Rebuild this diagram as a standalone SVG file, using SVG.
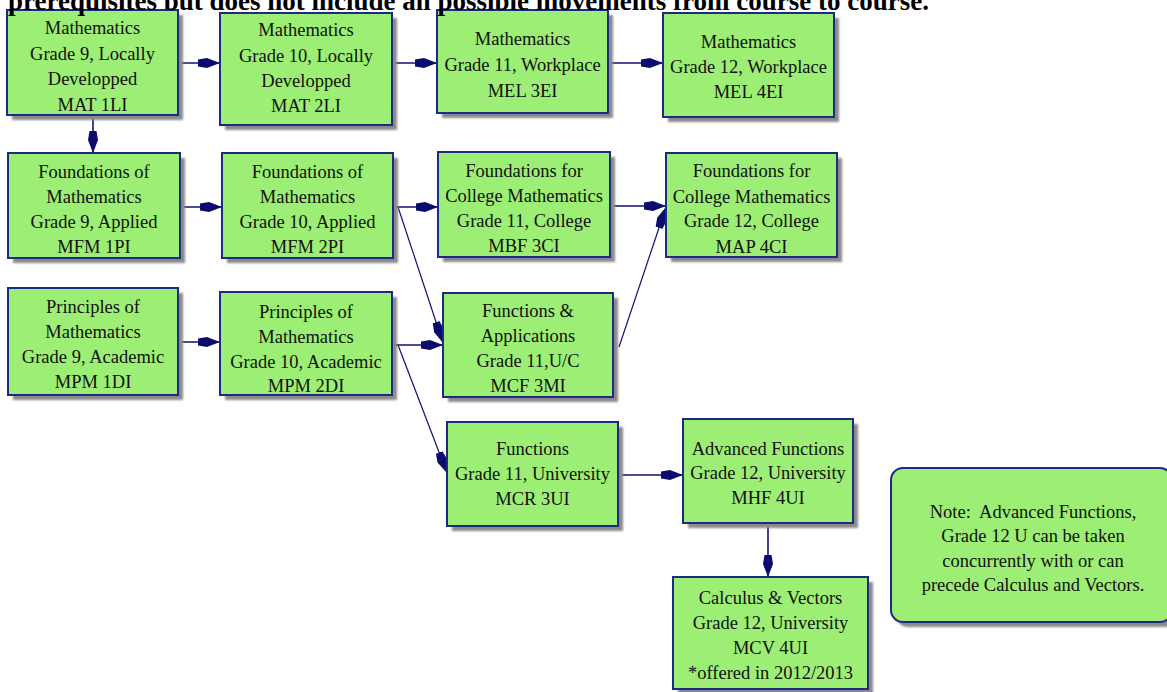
<svg xmlns="http://www.w3.org/2000/svg" width="1167" height="692" viewBox="0 0 1167 692">
<defs>
<style>
.box{fill:#9cee74;stroke:#1c2a86;stroke-width:2}
.sh{fill:#8a8a8a;filter:url(#blur)}
.t{font-family:"Liberation Serif","Times New Roman",serif;font-size:18.5px;fill:#111;text-anchor:middle}
.hd{font-family:"Liberation Serif","Times New Roman",serif;font-size:27px;font-weight:bold;fill:#000}
.c{stroke:#101070;stroke-width:1.6;fill:none}
.d{stroke:#101070;stroke-width:1.2;fill:none}
</style>
<filter id="blur" x="-10%" y="-10%" width="120%" height="120%"><feGaussianBlur stdDeviation="1.2"/></filter>
<marker id="ah" markerUnits="userSpaceOnUse" markerWidth="24" markerHeight="12" viewBox="0 -6 24 12" refX="22" refY="0" orient="auto">
<path d="M0,-3.5 L9,-5 L22,0 L9,5 L0,3.5 Z" fill="#0c0c6e"/>
</marker>
</defs>
<rect width="1167" height="692" fill="#fff"/>

<g id="connectors">
<line class="c" x1="178" y1="63" x2="220" y2="63" marker-end="url(#ah)"/>
<line class="c" x1="392" y1="63" x2="437" y2="63" marker-end="url(#ah)"/>
<line class="c" x1="608" y1="63" x2="663" y2="63" marker-end="url(#ah)"/>
<line class="c" x1="93" y1="115" x2="93" y2="153" marker-end="url(#ah)"/>
<line class="c" x1="180" y1="207" x2="222" y2="207" marker-end="url(#ah)"/>
<line class="c" x1="393" y1="207" x2="438" y2="207" marker-end="url(#ah)"/>
<line class="d" x1="398" y1="207" x2="443" y2="343" marker-end="url(#ah)"/>
<line class="c" x1="610" y1="206" x2="666" y2="206" marker-end="url(#ah)"/>
<line class="d" x1="619" y1="347" x2="666" y2="207" marker-end="url(#ah)"/>
<line class="c" x1="178" y1="342" x2="220" y2="342" marker-end="url(#ah)"/>
<line class="c" x1="392" y1="345" x2="443" y2="345" marker-end="url(#ah)"/>
<line class="d" x1="398" y1="345" x2="447" y2="473" marker-end="url(#ah)"/>
<line class="c" x1="618" y1="475" x2="683" y2="475" marker-end="url(#ah)"/>
<line class="c" x1="768" y1="523" x2="768" y2="577" marker-end="url(#ah)"/>
</g>

<g id="n-mat1li">
<rect class="sh" x="12" y="15" width="171" height="105"/>
<rect class="box" x="7" y="10" width="171" height="105"/>
<text class="t" x="92.5" y="34">Mathematics</text>
<text class="t" x="92.5" y="60">Grade 9, Locally</text>
<text class="t" x="92.5" y="85">Developped</text>
<text class="t" x="92.5" y="111">MAT 1LI</text>
</g>
<g id="n-mat2li">
<rect class="sh" x="225" y="18" width="172" height="112"/>
<rect class="box" x="220" y="13" width="172" height="112"/>
<text class="t" x="306" y="36">Mathematics</text>
<text class="t" x="306" y="62">Grade 10, Locally</text>
<text class="t" x="306" y="87">Developped</text>
<text class="t" x="306" y="112">MAT 2LI</text>
</g>
<g id="n-mel3ei">
<rect class="sh" x="442" y="15" width="171" height="103"/>
<rect class="box" x="437" y="10" width="171" height="103"/>
<text class="t" x="522.5" y="45">Mathematics</text>
<text class="t" x="522.5" y="71">Grade 11, Workplace</text>
<text class="t" x="522.5" y="97">MEL 3EI</text>
</g>
<g id="n-mel4ei">
<rect class="sh" x="668" y="18" width="171" height="104"/>
<rect class="box" x="663" y="13" width="171" height="104"/>
<text class="t" x="748.5" y="48">Mathematics</text>
<text class="t" x="748.5" y="73">Grade 12, Workplace</text>
<text class="t" x="748.5" y="98">MEL 4EI</text>
</g>

<g id="n-mfm1pi">
<rect class="sh" x="13" y="158" width="172" height="105"/>
<rect class="box" x="8" y="153" width="172" height="105"/>
<text class="t" x="94" y="178">Foundations of</text>
<text class="t" x="94" y="203">Mathematics</text>
<text class="t" x="94" y="228">Grade 9, Applied</text>
<text class="t" x="94" y="253">MFM 1PI</text>
</g>
<g id="n-mfm2pi">
<rect class="sh" x="227" y="158" width="171" height="105"/>
<rect class="box" x="222" y="153" width="171" height="105"/>
<text class="t" x="307.5" y="178">Foundations of</text>
<text class="t" x="307.5" y="203">Mathematics</text>
<text class="t" x="307.5" y="228">Grade 10, Applied</text>
<text class="t" x="307.5" y="253">MFM 2PI</text>
</g>
<g id="n-mbf3ci">
<rect class="sh" x="443" y="157" width="172" height="105"/>
<rect class="box" x="438" y="152" width="172" height="105"/>
<text class="t" x="524" y="177">Foundations for</text>
<text class="t" x="524" y="202">College Mathematics</text>
<text class="t" x="524" y="227">Grade 11, College</text>
<text class="t" x="524" y="252">MBF 3CI</text>
</g>
<g id="n-map4ci">
<rect class="sh" x="671" y="158" width="171" height="104"/>
<rect class="box" x="666" y="153" width="171" height="104"/>
<text class="t" x="751.5" y="177">Foundations for</text>
<text class="t" x="751.5" y="203">College Mathematics</text>
<text class="t" x="751.5" y="227">Grade 12, College</text>
<text class="t" x="751.5" y="253">MAP 4CI</text>
</g>

<g id="n-mpm1di">
<rect class="sh" x="13" y="293" width="170" height="107"/>
<rect class="box" x="8" y="288" width="170" height="107"/>
<text class="t" x="93" y="313">Principles of</text>
<text class="t" x="93" y="338">Mathematics</text>
<text class="t" x="93" y="363">Grade 9, Academic</text>
<text class="t" x="93" y="388">MPM 1DI</text>
</g>
<g id="n-mpm2di">
<rect class="sh" x="225" y="297" width="172" height="103"/>
<rect class="box" x="220" y="292" width="172" height="103"/>
<text class="t" x="306" y="318">Principles of</text>
<text class="t" x="306" y="343">Mathematics</text>
<text class="t" x="306" y="368">Grade 10, Academic</text>
<text class="t" x="306" y="392">MPM 2DI</text>
</g>
<g id="n-mcf3mi">
<rect class="sh" x="448" y="298" width="170" height="104"/>
<rect class="box" x="443" y="293" width="170" height="104"/>
<text class="t" x="528" y="317">Functions &amp;</text>
<text class="t" x="528" y="342">Applications</text>
<text class="t" x="528" y="367">Grade 11,U/C</text>
<text class="t" x="528" y="392">MCF 3MI</text>
</g>
<g id="n-mcr3ui">
<rect class="sh" x="452" y="427" width="171" height="104"/>
<rect class="box" x="447" y="422" width="171" height="104"/>
<text class="t" x="532.5" y="455">Functions</text>
<text class="t" x="532.5" y="480">Grade 11, University</text>
<text class="t" x="532.5" y="505">MCR 3UI</text>
</g>
<g id="n-mhf4ui">
<rect class="sh" x="688" y="424" width="170" height="104"/>
<rect class="box" x="683" y="419" width="170" height="104"/>
<text class="t" x="768" y="455">Advanced Functions</text>
<text class="t" x="768" y="479">Grade 12, University</text>
<text class="t" x="768" y="504">MHF 4UI</text>
</g>
<g id="n-mcv4ui">
<rect class="sh" x="678" y="582" width="195" height="112"/>
<rect class="box" x="673" y="577" width="195" height="112"/>
<text class="t" x="770.5" y="604">Calculus &amp; Vectors</text>
<text class="t" x="770.5" y="629">Grade 12, University</text>
<text class="t" x="770.5" y="654">MCV 4UI</text>
<text class="t" x="770.5" y="679">*offered in 2012/2013</text>
</g>
<g id="n-note">
<rect class="sh" x="896" y="473" width="281" height="154" rx="12"/>
<rect class="box" x="891" y="468" width="281" height="154" rx="12"/>
<text class="t" x="1033" y="518" xml:space="preserve">Note:  Advanced Functions,</text>
<text class="t" x="1033" y="542">Grade 12 U can be taken</text>
<text class="t" x="1033" y="567">concurrently with or can</text>
<text class="t" x="1033" y="591">precede Calculus and Vectors.</text>
</g>

<text class="hd" x="8" y="9.5">prerequisites but does not include all possible movements from course to course.</text>
</svg>
